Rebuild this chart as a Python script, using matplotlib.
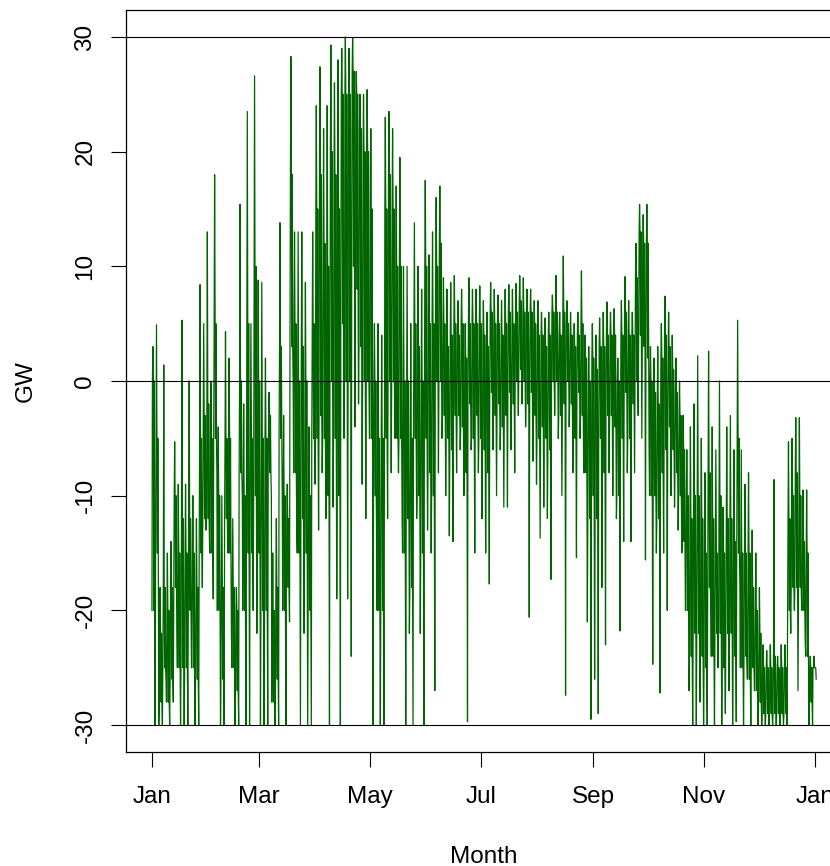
import numpy as np
import matplotlib
matplotlib.use('Agg')
import matplotlib.pyplot as plt

# Two-day bins (GW): extreme upper / lower values ...
hi = [3.0, 4.9, -18, 1.4, -15, -14, -5.3, -9, 5.3, -9,
      0, -10, -12, 8.4, 5, 13, 0, 18, -4, -10,
      4.3, 2, -12, -18, 15.4, -2, 23.5, 5, 26.6, 8.8,
      8.6, 2, -1, -15, -12, 13.8, -3, -9, 28.3, 13,
      13, 13, 8.6, -4, 13, 24, 27.4, 22, 24, 29.3,
      26, 28, 29, 30, 29, 29.9, 27, 25, 25, 25.4,
      22, 5, 5, 4, 23, 23.5, 22, 17, 19.5, 10,
      10, 5, 13.8, 10, 8, 17.5, 11, 13, 16, 17,
      9, 8, 8.6, 9.2, 7, 8, 5, 9, 8, 8,
      8.3, 7, 6, 8.6, 8, 7.5, 7, 8, 8.4, 8,
      8.5, 9.2, 9, 8, 8, 7, 7, 6, 5.5, 6,
      7.5, 9.2, 6, 10.9, 7, 6, 5, 6, 9.6, 4,
      3, 5, 4, 5.5, 6, 6.9, 6, 6.3, 2, 7,
      9.1, 7, 6, 12, 15.4, 14.5, 15.4, 3, 2, 3,
      5, 7.4, 6, 4, 2, 0, -3, -6, -4, -2,
      2.2, -5, -8, 2.6, -4, -6, 0, -11, -4, -3,
      -6, 5.3, -6, -9, -8, -13, -15, -18, -23, -23.5,
      -23, -8.6, -24, -23, -23, -5.3, -5, -3.2, -3.2, -9.5,
      -9.5, -24, -24]
lo = [-30, -30, -30, -26, -30, -28, -22, -30, -30, -30,
      -25, -30, -30, -18, -13, -15, -19, -8, -30, -30,
      -15, -22, -30, -30, -10, -30, -30, -20, -22, -30,
      -30, -30, -10, -30, -30, -10, -30, -21, 0, -13,
      -30, -22, -30, -30, -9, -13, -8, -12, -30, -11,
      -19, -30, -5, -19, -24, -4, -2, -9, -12, -5,
      -30, -15, -30, -30, -12, -8, -5, -8, -12, -30,
      -22, -30, -12, -22, -30, -13, -15, -27, -8, -5,
      -10, -13.5, -14, -8, -6, -10, -29.7, -6, -15, -8,
      -12, -15, -17.7, -6, -10, -6, -11, -11, -6, -8,
      -3, -2, -4, -20.6, -7, -9, -13.7, -11, -12, -17.3,
      -3, -5, -10, -27.4, -4, -8, -15.4, -5, -8, -21,
      -29.5, -26, -29, -18, -23, -8, -10, -12, -21.8, -14,
      -8, -14, -8, -3, -5, -15.6, -6, -24.7, -15, -27.2,
      -15, -20, -10, -11, -13, -15, -20, -27, -30, -30,
      -28, -30, -30, -20, -30, -25, -30, -29, -27, -30,
      -29.7, -18, -30, -26, -30, -27, -30, -30, -30, -30,
      -30, -30, -30, -30, -30, -22, -20, -27, -20, -23,
      -30, -30, -26]
# ... and the top / bottom of the dense core band in the same bins
core_hi = [0, -5, -22, -18, -20, -18, -10, -15, -12, -15,
           -12, -15, -18, -5, -3, -2, -5, 5, -10, -18,
           -5, -5, -18, -20, 0, -10, 5, -5, 10, 0,
           -5, -5, -3, -20, -18, 3, -10, -12, 18, 5,
           0, 3, 0, -10, 5, 15, 18, 12, 10, 20,
           18, 15, 25, 25, 25, 27, 25, 22, 20, 20,
           15, 0, -5, -5, 15, 18, 15, 10, 10, 0,
           0, -5, 5, 3, 0, 10, 5, 5, 10, 12,
           5, 3, 4, 5, 4, 5, 2, 5, 5, 5,
           5, 4, 3, 6, 5, 5, 4, 5, 6, 5,
           6, 7, 6, 6, 6, 5, 4, 4, 3, 4,
           6, 6, 4, 6, 5, 4, 3, 4, 5, 2,
           0, 2, 1, 3, 3, 4, 4, 4, 0, 4,
           6, 4, 4, 9, 13, 12, 12, 0, -1, -2,
           2, 4, 3, 1, -1, -3, -6, -10, -12, -10,
           -10, -12, -15, -8, -12, -15, -10, -15, -12, -12,
           -14, -5, -15, -15, -15, -18, -20, -22, -25, -25,
           -25, -24, -25, -25, -25, -12, -10, -8, -10, -14,
           -15, -25, -25]
core_lo = [-20, -15, -28, -25, -28, -26, -18, -25, -25, -25,
           -20, -25, -26, -15, -12, -12, -15, -5, -20, -26,
           -12, -15, -25, -27, -8, -20, -15, -15, -10, -15,
           -20, -20, -8, -28, -26, -5, -20, -18, 3, -8,
           -15, -12, -15, -20, -5, -5, -3, -5, -10, 0,
           -5, -10, 5, 0, 0, 10, 8, 3, 0, 0,
           -5, -10, -20, -20, -5, 0, 0, -5, -5, -15,
           -12, -18, -5, -10, -15, -5, -8, -10, 0, 0,
           -3, -5, -6, -3, -3, -4, -8, -2, -5, -3,
           -5, -6, -8, -1, -3, -2, -4, -3, -1, -2,
           0, 1, 0, -2, -1, -3, -5, -4, -5, -6,
           0, 0, -3, -2, 0, -2, -5, -1, -3, -8,
           -12, -10, -12, -5, -8, -3, -3, -4, -10, -5,
           -1, -5, -2, 0, 4, 3, 2, -10, -10, -12,
           -8, -6, -4, -6, -8, -10, -14, -20, -24, -22,
           -22, -24, -25, -18, -24, -22, -22, -25, -22, -22,
           -24, -15, -25, -24, -26, -25, -27, -28, -29, -29,
           -29, -29, -29, -29, -29, -20, -18, -18, -18, -20,
           -24, -28, -25]

start_date = '2015-01-01'
bin_days = 2
ref_lines = [-30, 0, 30]
y_ticks = [-30, -20, -10, 0, 10, 20, 30]
month_ticks = ['2015-01-01', '2015-03-01', '2015-05-01', '2015-07-01',
               '2015-09-01', '2015-11-01', '2016-01-01']
month_labels = ['Jan', 'Mar', 'May', 'Jul', 'Sep', 'Nov', 'Jan']

# path through each bin: across the core, spike up and back, back and forth
# across the core, spike down and back
gw = np.column_stack([core_lo, core_hi, hi, core_hi, core_lo,
                      core_hi, core_lo, lo]).ravel()
n_per_bin = 8
t0 = np.datetime64(start_date)
step_h = bin_days * 24 // n_per_bin
t = t0 + (np.arange(len(gw)) * step_h).astype('timedelta64[h]')

plt.rcParams['font.family'] = ['Liberation Sans', 'DejaVu Sans']
plt.rcParams['axes.unicode_minus'] = False

fig = plt.figure(figsize=(8.3, 8.66), dpi=100)
ax = fig.add_axes([126 / 830, 1 - 752 / 866, 715 / 830, 742 / 866])

ax.plot(t, gw, color='#006400', lw=0.9, zorder=2)
for v in ref_lines:
    ax.axhline(v, color='black', lw=0.8, zorder=3)

ax.set_xlim(t0 - np.timedelta64(343, 'h'), t0 + np.timedelta64(9106, 'h'))
ax.set_ylim(-32.35, 32.35)

ax.set_yticks(y_ticks)
ax.set_yticklabels([str(v) for v in y_ticks])
ax.set_xticks([np.datetime64(d) for d in month_ticks])
ax.set_xticklabels(month_labels)

ax.tick_params(axis='both', direction='out', length=10.8, width=0.8,
               labelsize=17.5, color='black')
ax.tick_params(axis='x', pad=14)
ax.tick_params(axis='y', pad=10.5, labelrotation=90)
for lab in ax.get_yticklabels():
    lab.set_va('center')
for s in ax.spines.values():
    s.set_linewidth(0.9)

fig.text(483.5 / 830, 1 - 863 / 866, 'Month', ha='center', va='baseline', fontsize=17.5)
fig.text(26 / 830, 1 - 381 / 866, 'GW', ha='center', va='center', rotation=90, fontsize=17.5)

fig.savefig('out.png', dpi=100)
